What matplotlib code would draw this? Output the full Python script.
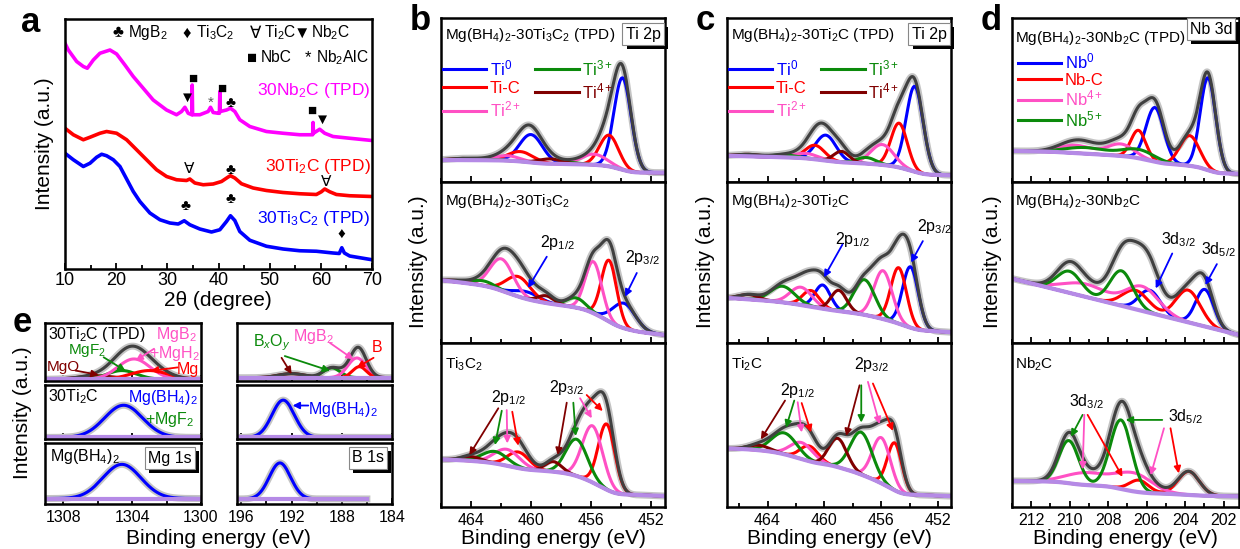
import numpy as np
import matplotlib
matplotlib.use('Agg')
from matplotlib import pyplot as plt
from matplotlib import patheffects as pe
from matplotlib.ticker import MultipleLocator

plt.rcParams['font.family'] = ['Liberation Sans', 'DejaVu Sans']
plt.rcParams['mathtext.fontset'] = 'custom'
plt.rcParams['mathtext.rm'] = 'Liberation Sans'
plt.rcParams['mathtext.it'] = 'Liberation Sans:italic'
plt.rcParams['mathtext.bf'] = 'Liberation Sans:bold'

BLUE, RED, GREEN, PINK, DRED = '#0000FF', '#FF0000', '#0B8A0B', '#FF50C4', '#800000'
ENV, RAW, BGC, MAG = '#404040', '#C4C4C4', '#B58AE6', '#FF00FF'

# ---------------- XRD (panel a) ----------------
nb2c_2t = [10.0, 10.65, 12.28, 13.58, 14.36, 15.53, 16.83, 18.79, 20.09, 21.71, 23.34, 25.29,
           27.24, 29.85, 31.80, 32.78, 33.43, 34.08, 34.78, 34.86, 34.94, 36.35, 37.98, 38.44,
           38.96, 39.93, 40.18, 40.26, 40.34, 41.56, 42.34, 43.19, 44.16, 46.12, 49.37, 52.62,
           55.88, 58.16, 58.40, 58.48, 58.56, 59.78, 60.76, 62.38, 65.64, 70.0]
nb2c_i = [.903, .876, .830, .810, .803, .836, .863, .876, .860, .816, .770, .723,
          .676, .636, .617, .630, .647, .623, .617, .736, .617, .617, .630, .647,
          .626, .623, .623, .710, .630, .636, .643, .630, .597, .570, .550, .543,
          .537, .537, .537, .586, .543, .559, .543, .530, .523, .514]

ti2c_2t = [10.0, 11.63, 13.58, 14.88, 16.83, 18.13, 20.09, 22.04, 23.99, 25.94, 27.90, 29.85,
           31.80, 33.75, 34.40, 35.38, 37.01, 38.96, 40.59, 41.89, 42.34, 43.19, 44.49, 46.77,
           49.37, 52.62, 55.88, 59.13, 60.11, 60.76, 61.73, 63.04, 65.64, 70.0]
ti2c_i = [.563, .537, .517, .527, .543, .550, .543, .517, .477, .437, .397, .370,
          .357, .354, .360, .344, .337, .340, .350, .368, .373, .364, .341, .324,
          .314, .306, .301, .298, .309, .320, .309, .298, .293, .290]

ti3c2_2t = [10.0, 11.63, 13.58, 14.88, 16.18, 17.16, 18.13, 19.44, 20.74, 22.04, 23.34, 24.64,
            26.59, 28.55, 30.50, 32.13, 33.30, 34.40, 36.35, 38.63, 40.26, 41.56, 42.34, 43.19,
            44.16, 46.12, 49.37, 52.62, 55.88, 59.13, 62.38, 63.60, 64.10, 64.60, 65.64, 70.0]
ti3c2_i = [.463, .437, .410, .423, .447, .459, .453, .437, .410, .360, .310, .270,
           .224, .197, .184, .180, .193, .177, .160, .148, .157, .190, .213, .194,
           .150, .115, .091, .080, .073, .071, .064, .062, .085, .064, .052, .037]

# phase markers: (symbol, 2theta, height, colour)
xrd_marks = [('▼', 33.9, .684, 'k'), ('■', 34.9, .76, 'k'), ('*', 38.4, .664, '#555555'),
             ('■', 40.6, .72, 'k'), ('♣', 42.3, .664, 'k'), ('■', 58.3, .634, 'k'),
             ('▼', 60.4, .596, 'k'), ('∀', 34.3, .40, 'k'), ('♣', 42.3, .396, 'k'),
             ('∀', 61.1, .348, 'k'), ('♣', 33.5, .25, 'k'), ('♣', 42.3, .28, 'k'),
             ('♦', 64.1, .135, 'k')]

# ---------------- XPS fits: (centre eV, height, fwhm) ----------------
# Ti 2p, Mg(BH4)2-30Ti3C2 (TPD)
b1_ti0 = [(453.9, 0.56, 1.35), (460.0, 0.17, 1.8)]
b1_tic = [(454.8, 0.19, 1.5), (460.7, 0.06, 2.0)]
b1_ti2 = [(455.8, 0.065, 2.0), (461.6, 0.03, 2.0)]
b1_ti3 = [(457.3, 0.01, 1.5), (463.0, 0.006, 2.0)]
b1_ti4 = [(458.7, 0.03, 1.8), (464.5, 0.01, 2.0)]
b1_bg = (0.057, 0.134, 0.0)
# Ti 2p, Mg(BH4)2-30Ti3C2
b2_ti0 = [(453.8, 0.155, 1.8), (460.3, 0.045, 2.0)]
b2_tic = [(454.8, 0.38, 1.2), (460.84, 0.124, 1.9)]
b2_ti2 = [(455.84, 0.32, 1.3), (461.96, 0.197, 1.8)]
b2_ti3 = [(457.0, 0.06, 1.5), (463.2, 0.03, 1.8)]
b2_ti4 = [(459.0, 0.045, 1.3), (464.8, 0.01, 1.5)]
b2_bg = (0.05, 0.39, 0.15)
# Ti 2p, Ti3C2
b3_tic = [(454.96, 0.40, 1.3), (460.84, 0.098, 1.7)]
b3_ti2 = [(455.9, 0.345, 1.6), (461.6, 0.10, 2.0)]
b3_ti3 = [(456.96, 0.224, 1.7), (462.4, 0.073, 2.0)]
b3_ti4 = [(458.5, 0.061, 1.3), (464.0, 0.026, 1.6)]
b3_bg = (0.067, 0.29, 0.05)

# Ti 2p, Mg(BH4)2-30Ti2C (TPD)
c1_ti0 = [(453.65, 0.52, 1.4), (459.9, 0.155, 1.7)]
c1_tic = [(454.75, 0.27, 1.35), (460.66, 0.085, 1.6)]
c1_ti2 = [(455.93, 0.124, 1.9), (461.3, 0.03, 2.0)]
c1_ti3 = [(457.06, 0.037, 1.6), (462.8, 0.015, 2.0)]
c1_ti4 = [(458.8, 0.066, 1.3), (465.3, 0.012, 2.0)]
c1_bg = (0.041, 0.16, 0.03)
# Ti 2p, Mg(BH4)2-30Ti2C
c2_ti0 = [(453.95, 0.378, 1.3), (460.12, 0.147, 1.3)]
c2_tic = [(454.78, 0.347, 1.3), (460.94, 0.10, 1.4)]
c2_ti2 = [(455.88, 0.30, 1.5), (461.65, 0.11, 1.8)]
c2_ti3 = [(457.18, 0.218, 1.7), (462.94, 0.10, 2.0)]
c2_ti4 = [(458.99, 0.129, 1.3), (465.3, 0.03, 1.6)]
c2_bg = (0.067, 0.28, 0.08)
# Ti 2p, Ti2C
c3_tic = [(455.06, 0.289, 1.2), (461.06, 0.093, 1.5)]
c3_ti2 = [(456.0, 0.278, 1.5), (461.6, 0.10, 1.9)]
c3_ti3 = [(457.41, 0.258, 1.8), (462.82, 0.13, 2.1)]
c3_ti4 = [(459.06, 0.175, 1.5), (464.6, 0.03, 1.8)]
c3_bg = (0.066, 0.357, 0.05)

# Nb 3d, Mg(BH4)2-30Nb2C (TPD)
d1_nb0 = [(202.81, 0.563, 0.95), (205.57, 0.33, 1.1)]
d1_nbc = [(203.76, 0.184, 1.2), (206.43, 0.17, 0.9)]
d1_nb4 = [(207.34, 0.072, 1.6), (209.67, 0.047, 2.0)]
d1_nb5 = [(206.4, 0.053, 2.0), (209.16, 0.037, 2.5)]
d1_bg = (0.05, 0.19, 0.03)
# Nb 3d, Mg(BH4)2-30Nb2C
d2_nb0 = [(202.98, 0.23, 1.1), (205.84, 0.14, 1.3)]
d2_nbc = [(203.84, 0.20, 1.5), (206.57, 0.118, 1.6)]
d2_nb4 = [(206.22, 0.15, 2.0), (209.16, 0.08, 2.7)]
d2_nb5 = [(207.31, 0.217, 1.4), (210.02, 0.134, 1.5)]
d2_bg = (0.05, 0.40, 0.35)
# Nb 3d, Nb2C
d3_nbc = [(203.81, 0.143, 1.3), (206.4, 0.073, 1.2)]
d3_nb4 = [(206.66, 0.11, 2.2), (209.16, 0.073, 2.4)]
d3_nb5 = [(207.34, 0.42, 1.3), (210.05, 0.26, 1.2)]
d3_bg = (0.065, 0.159, 0.02)

# Mg 1s
e1_mgo = [(1306.0, 0.06, 2.5)]
e1_mgf2 = [(1304.6, 0.15, 2.0)]
e1_mgb2 = [(1303.9, 0.35, 2.2)]
e1_mg = [(1303.0, 0.15, 2.5)]
e2_mgbh4 = [(1304.5, 0.595, 2.6)]
e3_mgbh4 = [(1304.6, 0.56, 2.6)]
# B 1s
f1_box = [(192.0, 0.07, 2.5)]
f1_bxoy = [(188.8, 0.17, 1.6)]
f1_mgb2 = [(186.8, 0.34, 1.7)]
f1_b = [(186.6, 0.19, 1.3)]
f2_mgbh4 = [(192.67, 0.69, 2.1)]
f3_mgbh4 = [(192.93, 0.59, 2.0)]

W, H = 1240, 549
fig = plt.figure(figsize=(W / 100, H / 100), dpi=100)


def add_ax(x0, y0, x1, y1):
    return fig.add_axes([x0 / W, 1 - y1 / H, (x1 - x0) / W, (y1 - y0) / H])


def ftext(x, y, s, **kw):
    kw.setdefault('va', 'center')
    return fig.text(x / W, 1 - y / H, s, **kw)


def gauss(e, peaks):
    y = np.zeros_like(e)
    for c, h, w in peaks:
        y += h * np.exp(-4 * np.log(2) * (e - c) ** 2 / w ** 2)
    return y


def xps(ax, xlim, comps, bg, envelope=True, span=None):
    lo_e, hi_e = span if span else (min(xlim), max(xlim))
    e = np.linspace(lo_e, hi_e, 900)
    ys = [gauss(e, p) for _, p in comps]
    total = np.sum(ys, axis=0)
    step = np.cumsum(total)
    step = step / step[-1]
    lo, hi, lin = bg
    base = lo + lin * (e - e[0]) / (e[-1] - e[0]) + (hi - lo - lin) * step
    ax.plot(e, base + total, color=RAW, lw=5)
    lines = [ax.plot(e, base + y, color=c, lw=2.2)[0] for (c, _), y in zip(comps, ys)]
    if envelope:
        ax.plot(e, base + total, color=ENV, lw=2.2)
    ax.plot(e, base, color=BGC, lw=3)
    ax.set_xlim(xlim)
    ax.set_ylim(0, 1)
    return lines


def style(ax, major, minor, labels=True, size=11.5, pad=4):
    ax.xaxis.set_major_locator(MultipleLocator(major))
    ax.xaxis.set_minor_locator(MultipleLocator(minor))
    ax.set_yticks([])
    ax.tick_params(axis='x', which='both', direction='in', top=False, width=1.3,
                   labelsize=size, labelbottom=labels, pad=pad)
    ax.tick_params(axis='x', which='major', length=4.5)
    ax.tick_params(axis='x', which='minor', length=3)
    for s in ax.spines.values():
        s.set_linewidth(1.8)


def arrow(ax, tail, head, color):
    ax.annotate('', xy=head, xytext=tail,
                arrowprops=dict(arrowstyle='-|>', color=color, lw=1.3,
                                mutation_scale=10, shrinkA=0, shrinkB=0))


def tag(x, y, s):
    t = ftext(x, y, s, ha='center', fontsize=11.5,
              bbox=dict(boxstyle='square,pad=0.2', fc='white', ec='#888888', lw=0.8))
    t.get_bbox_patch().set_path_effects([
        pe.SimplePatchShadow(offset=(3, -3), shadow_rgbFace='k', alpha=1), pe.Normal()])


# ---------------- panel a ----------------
ax = add_ax(65, 19, 372, 269)
ax.plot(nb2c_2t, nb2c_i, color=MAG, lw=2.6)
ax.plot(ti2c_2t, ti2c_i, color=RED, lw=2.6)
ax.plot(ti3c2_2t, ti3c2_i, color=BLUE, lw=2.6)
for sym, x, y, c in xrd_marks:
    ax.text(x, y, sym, color=c, ha='center', va='center', fontsize=11)
ax.set_xlim(10, 70)
ax.set_ylim(0, 1)
style(ax, 10, 5, size=13, pad=2.5)
ax.text(0.995, (269 - 90) / 250, '30Nb$_2$C (TPD)', color=MAG, ha='right', va='center',
        fontsize=12.5, transform=ax.transAxes)
ax.text(0.995, (269 - 167) / 250, '30Ti$_2$C (TPD)', color=RED, ha='right', va='center',
        fontsize=12.5, transform=ax.transAxes)
ax.text(0.995, (269 - 218) / 250, '30Ti$_3$C$_2$ (TPD)', color=BLUE, ha='right', va='center',
        fontsize=12.5, transform=ax.transAxes)
for sym, xs, lab, xl, y in [('♣', 118, 'MgB$_2$', 128, 33), ('♦', 187, 'Ti$_3$C$_2$', 196, 33),
                            ('∀', 256, 'Ti$_2$C', 264, 33), ('▼', 302, 'Nb$_2$C', 311, 33),
                            ('■', 252, 'NbC', 261, 58), ('*', 308, 'Nb$_2$AlC', 316, 58)]:
    ftext(xs, y, sym, ha='center', fontsize=12)
    ftext(xl, y, lab, ha='left', fontsize=11.2)
ftext(44, 144, 'Intensity (a.u.)', rotation=90, ha='center', fontsize=15)
ftext(218, 300, '2θ (degree)', ha='center', fontsize=15)
ftext(31, 22, 'a', ha='center', fontsize=25, fontweight='bold')

# ---------------- panels b, c ----------------
ROWS = [(18, 182), (182, 343), (343, 507)]
XL_B = (466.0, 451.07)
XL_C = (466.85, 451.1)
XL_D = (213.0, 201.2)

ti_sets = {
    'b': ([(BLUE, b1_ti0), (RED, b1_tic), (PINK, b1_ti2), (GREEN, b1_ti3), (DRED, b1_ti4)], b1_bg,
          [(BLUE, b2_ti0), (RED, b2_tic), (PINK, b2_ti2), (GREEN, b2_ti3), (DRED, b2_ti4)], b2_bg,
          [(RED, b3_tic), (PINK, b3_ti2), (GREEN, b3_ti3), (DRED, b3_ti4)], b3_bg),
    'c': ([(BLUE, c1_ti0), (RED, c1_tic), (PINK, c1_ti2), (GREEN, c1_ti3), (DRED, c1_ti4)], c1_bg,
          [(BLUE, c2_ti0), (RED, c2_tic), (PINK, c2_ti2), (GREEN, c2_ti3), (DRED, c2_ti4)], c2_bg,
          [(RED, c3_tic), (PINK, c3_ti2), (GREEN, c3_ti3), (DRED, c3_ti4)], c3_bg),
}
geo = {'b': (441, 665, XL_B), 'c': (727, 951, XL_C)}
names = {'b': 'Ti$_3$C$_2$', 'c': 'Ti$_2$C'}
axes = {}
for key in 'bc':
    x0, x1, xl = geo[key]
    s1, g1, s2, g2, s3, g3 = ti_sets[key]
    a1 = add_ax(x0, ROWS[0][0], x1, ROWS[0][1])
    a2 = add_ax(x0, ROWS[1][0], x1, ROWS[1][1])
    a3 = add_ax(x0, ROWS[2][0], x1, ROWS[2][1])
    lines = xps(a1, xl, s1, g1)
    xps(a2, xl, s2, g2)
    xps(a3, xl, s3, g3)
    for a, lab in [(a1, False), (a2, False), (a3, True)]:
        style(a, 4, 2, labels=lab)
    a1.legend([lines[0], lines[1], lines[2], lines[3], lines[4]],
              ['Ti$^0$', 'Ti-C', 'Ti$^{2+}$', 'Ti$^{3+}$', 'Ti$^{4+}$'],
              ncol=2, loc='upper left', bbox_to_anchor=((x0 + 2) / W, 1 - 58 / H),
              bbox_transform=fig.transFigure, frameon=False, fontsize=12,
              handlelength=2.6, handletextpad=0.2, labelspacing=0.2,
              columnspacing=0.9, borderpad=0, borderaxespad=0, labelcolor='linecolor')
    m = names[key]
    ftext(x0 + 4, 35, 'Mg(BH$_4$)$_2$-30' + m + ' (TPD)', fontsize=11)
    ftext(x0 + 4, 201, 'Mg(BH$_4$)$_2$-30' + m, fontsize=11)
    ftext(x0 + 4, 364, m, fontsize=11)
    tag(x1 - 22, 34, 'Ti 2p')
    ftext(x0 - 22, 262, 'Intensity (a.u.)', rotation=90, ha='center', fontsize=15)
    ftext((x0 + x1) / 2, 539, 'Binding energy (eV)', ha='center', fontsize=15)
    axes[key] = (a1, a2, a3)

ftext(420, 21, 'b', ha='center', fontsize=25, fontweight='bold')
ftext(705, 21, 'c', ha='center', fontsize=25, fontweight='bold')

# panel b annotations
_, b2, b3 = axes['b']
b2.text(458.27, 0.627, '2p$_{1/2}$', ha='center', va='center', fontsize=11.5)
arrow(b2, (458.95, 0.536), (460.2, 0.342), BLUE)
b2.text(452.6, 0.53, '2p$_{3/2}$', ha='center', va='center', fontsize=11.5)
arrow(b2, (452.95, 0.435), (453.73, 0.288), BLUE)
b3.text(461.47, 0.669, '2p$_{1/2}$', ha='center', va='center', fontsize=11.5)
b3.text(457.62, 0.73, '2p$_{3/2}$', ha='center', va='center', fontsize=11.5)
for tail, head, c in [((462.18, .602), (464.11, .317), DRED), ((461.95, .587), (462.4, .378), GREEN),
                      ((461.62, .591), (461.58, .388), PINK), ((461.25, .581), (460.85, .374), RED),
                      ((457.62, .636), (458.22, .317), DRED), ((457.18, .636), (457.02, .433), GREEN),
                      ((456.73, .663), (455.95, .541), PINK), ((456.29, .683), (455.22, .585), RED)]:
    arrow(b3, tail, head, c)

# panel c annotations
_, c2, c3 = axes['c']
c2.text(458.02, 0.643, '2p$_{1/2}$', ha='center', va='center', fontsize=11.5)
arrow(c2, (458.73, 0.612), (460.03, 0.408), BLUE)
c2.text(452.26, 0.724, '2p$_{3/2}$', ha='center', va='center', fontsize=11.5)
arrow(c2, (453.08, 0.633), (453.91, 0.50), BLUE)
c3.text(461.88, 0.711, '2p$_{1/2}$', ha='center', va='center', fontsize=11.5)
c3.text(456.7, 0.866, '2p$_{3/2}$', ha='center', va='center', fontsize=11.5)
for tail, head, c in [((462.77, .649), (464.47, .412), DRED), ((462.12, .649), (462.7, .484), GREEN),
                      ((461.88, .639), (461.6, .455), PINK), ((461.6, .634), (460.94, .455), RED),
                      ((457.53, .742), (458.47, .433), DRED), ((457.41, .742), (457.41, .515), GREEN),
                      ((456.94, .763), (456.12, .505), PINK), ((456.59, .753), (455.18, .464), RED)]:
    arrow(c3, tail, head, c)

# ---------------- panel d ----------------
x0, x1 = 1012, 1239
d1 = add_ax(x0, ROWS[0][0], x1, ROWS[0][1])
d2 = add_ax(x0, ROWS[1][0], x1, ROWS[1][1])
d3 = add_ax(x0, ROWS[2][0], x1, ROWS[2][1])
dl = xps(d1, XL_D, [(BLUE, d1_nb0), (RED, d1_nbc), (PINK, d1_nb4), (GREEN, d1_nb5)], d1_bg)
xps(d2, XL_D, [(BLUE, d2_nb0), (RED, d2_nbc), (PINK, d2_nb4), (GREEN, d2_nb5)], d2_bg)
xps(d3, XL_D, [(RED, d3_nbc), (PINK, d3_nb4), (GREEN, d3_nb5)], d3_bg)
for a, lab in [(d1, False), (d2, False), (d3, True)]:
    style(a, 2, 1, labels=lab)
d1.legend(dl, ['Nb$^0$', 'Nb-C', 'Nb$^{4+}$', 'Nb$^{5+}$'], loc='upper left',
          bbox_to_anchor=((x0 + 6) / W, 1 - 52 / H), bbox_transform=fig.transFigure,
          frameon=False, fontsize=12, handlelength=2.6, handletextpad=0.2, labelspacing=0.05,
          borderpad=0, borderaxespad=0, labelcolor='linecolor')
ftext(x0 + 3, 38, 'Mg(BH$_4$)$_2$-30Nb$_2$C (TPD)', fontsize=11)
ftext(x0 + 3, 201, 'Mg(BH$_4$)$_2$-30Nb$_2$C', fontsize=11)
ftext(x0 + 3, 364, 'Nb$_2$C', fontsize=11)
tag(1211, 29, 'Nb 3d')
ftext(992, 262, 'Intensity (a.u.)', rotation=90, ha='center', fontsize=15)
ftext((x0 + x1) / 2, 539, 'Binding energy (eV)', ha='center', fontsize=15)
ftext(991, 20, 'd', ha='center', fontsize=25, fontweight='bold')
d2.text(204.33, 0.639, '3d$_{3/2}$', ha='center', va='center', fontsize=11.5)
arrow(d2, (204.67, 0.556), (205.53, 0.339), BLUE)
d2.text(202.26, 0.577, '3d$_{5/2}$', ha='center', va='center', fontsize=11.5)
arrow(d2, (202.35, 0.49), (202.95, 0.36), BLUE)
d3.text(209.15, 0.643, '3d$_{3/2}$', ha='center', va='center', fontsize=11.5)
d3.text(203.98, 0.551, '3d$_{5/2}$', ha='center', va='center', fontsize=11.5)
for tail, head, c in [((209.33, .562), (209.93, .429), GREEN), ((209.24, .562), (209.33, .229), PINK),
                      ((209.07, .562), (207.26, .184), RED), ((205.19, .531), (207.09, .531), GREEN),
                      ((205.1, .48), (205.79, .194), PINK), ((204.76, .48), (204.33, .205), RED)]:
    arrow(d3, tail, head, c)

# ---------------- panel e ----------------
EROWS = [(323, 381), (385, 439), (443, 504)]
XL_MG = (1309.07, 1300)
XL_B1S = (196.35, 184)
m1 = add_ax(45, EROWS[0][0], 201, EROWS[0][1])
m2 = add_ax(45, EROWS[1][0], 201, EROWS[1][1])
m3 = add_ax(45, EROWS[2][0], 201, EROWS[2][1])
xps(m1, XL_MG, [(DRED, e1_mgo), (GREEN, e1_mgf2), (PINK, e1_mgb2), (RED, e1_mg)], (0.03, 0.03, 0))
xps(m2, XL_MG, [(BLUE, e2_mgbh4)], (0.03, 0.03, 0), envelope=False)
xps(m3, XL_MG, [(BLUE, e3_mgbh4)], (0.09, 0.09, 0), envelope=False)
n1 = add_ax(237, EROWS[0][0], 392, EROWS[0][1])
n2 = add_ax(237, EROWS[1][0], 392, EROWS[1][1])
n3 = add_ax(237, EROWS[2][0], 392, EROWS[2][1])
xps(n1, XL_B1S, [(DRED, f1_box), (GREEN, f1_bxoy), (PINK, f1_mgb2), (RED, f1_b)], (0.057, 0.057, 0))
xps(n2, XL_B1S, [(BLUE, f2_mgbh4)], (0.03, 0.03, 0), envelope=False)
xps(n3, XL_B1S, [(BLUE, f3_mgbh4)], (0.083, 0.083, 0), envelope=False, span=(186, 196.35))
for a, lab in [(m1, False), (m2, False), (m3, True), (n1, False), (n2, False), (n3, True)]:
    style(a, 4, 2, labels=lab)

m1.text(1308.88, 0.80, '30Ti$_2$C (TPD)', ha='left', va='center', fontsize=11.5)
m1.text(1301.46, 0.80, 'MgB$_2$', color=PINK, ha='center', va='center', fontsize=11.5)
m1.text(1301.56, 0.47, '+MgH$_2$', color=PINK, ha='center', va='center', fontsize=11.5)
m1.text(1300.78, 0.19, 'Mg', color=RED, ha='center', va='center', fontsize=11.5)
m1.text(1306.6, 0.53, 'MgF$_2$', color=GREEN, ha='center', va='center', fontsize=11)
m1.text(1308.0, 0.24, 'MgO', color=DRED, ha='center', va='center', fontsize=11)
for tail, head, c in [((1307.3, .18), (1305.95, .105), DRED), ((1305.66, .409), (1304.39, .175), GREEN),
                      ((1302.73, .556), (1303.8, .351), PINK), ((1301.36, .234), (1302.92, .175), RED)]:
    arrow(m1, tail, head, c)
m2.text(1308.88, 0.78, '30Ti$_2$C', ha='left', va='center', fontsize=11.5)
m2.text(1300.2, 0.77, 'Mg(BH$_4$)$_2$', color=BLUE, ha='right', va='center', fontsize=11.5)
m2.text(1300.4, 0.37, '+MgF$_2$', color=GREEN, ha='right', va='center', fontsize=11.5)
m3.text(1308.8, 0.78, 'Mg(BH$_4$)$_2$', ha='left', va='center', fontsize=11.5)
tag(170, 458, 'Mg 1s')

n1.text(193.6, 0.66, 'B$_x$O$_y$', color=GREEN, ha='center', va='center', fontsize=11.5)
n1.text(190.27, 0.77, 'MgB$_2$', color=PINK, ha='center', va='center', fontsize=11.5)
n1.text(185.2, 0.57, 'B', color=RED, ha='center', va='center', fontsize=11.5)
for tail, head, c in [((192.8, .40), (192.0, .119), DRED), ((192.54, .43), (188.94, .175), GREEN),
                      ((188.94, .656), (187.07, .373), PINK), ((185.47, .40), (186.8, .232), RED)]:
    arrow(n1, tail, head, c)
n2.text(190.67, 0.54, 'Mg(BH$_4$)$_2$', color=BLUE, ha='left', va='center', fontsize=11.5)
arrow(n2, (190.67, 0.62), (191.92, 0.62), BLUE)
tag(368, 458, 'B 1s')

ftext(23, 413, 'Intensity (a.u.)', rotation=90, ha='center', fontsize=15)
ftext(218, 539, 'Binding energy (eV)', ha='center', fontsize=15)
ftext(22, 322, 'e', ha='center', fontsize=25, fontweight='bold')

fig.savefig('out.png', dpi=100)
